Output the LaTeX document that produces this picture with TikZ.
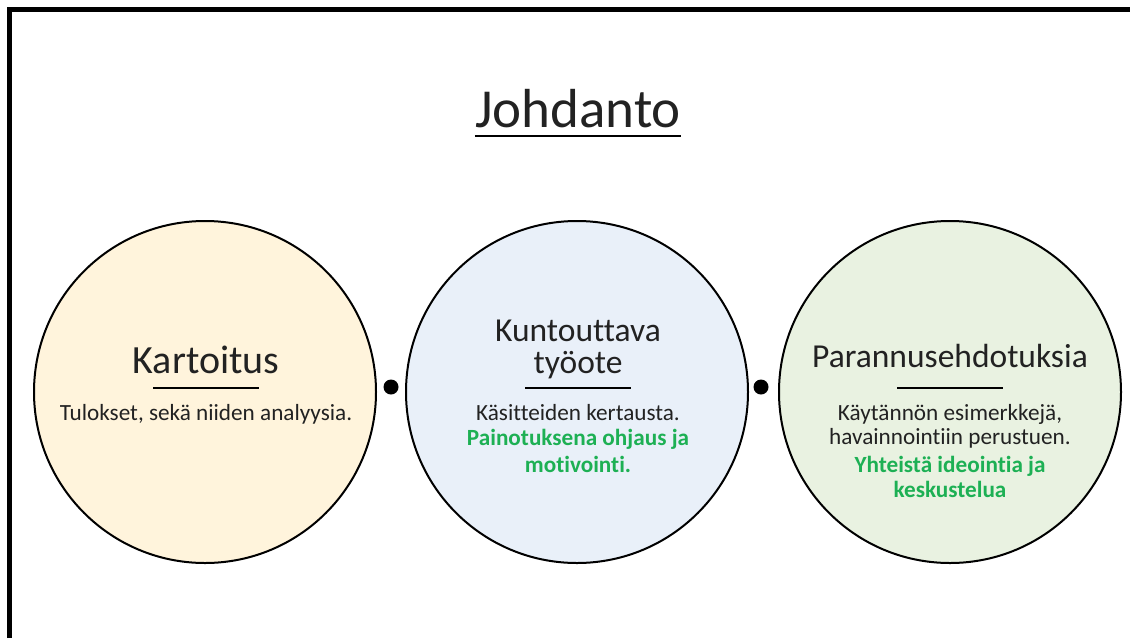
\documentclass[tikz,border=0pt]{standalone}
\usepackage{fontspec}
\setmainfont{Carlito}[Ligatures={NoCommon,NoRequired,NoContextual}]
\definecolor{txt}{HTML}{222222}
\definecolor{grn}{HTML}{1DB054}
\definecolor{cyel}{HTML}{FFF4DC}
\definecolor{cblu}{HTML}{E9F0F9}
\definecolor{cgrn}{HTML}{E9F2E1}
\tikzset{
  bubble/.style={circle, draw=black, line width=2pt, minimum size=342pt, inner sep=0pt},
  joint/.style={circle, fill=black, minimum size=15pt, inner sep=0pt},
  head/.style={anchor=base, inner sep=0pt, text=txt},
  bigtitle/.style={head, font=\fontsize{55}{66}\selectfont},
  ctitle/.style={head, font=\fontsize{33.5}{30}\selectfont},
  body/.style={anchor=base, inner sep=0pt, text=txt, font=\fontsize{23.2}{26}\selectfont},
  hl/.style={anchor=base, inner sep=0pt, text=grn, font=\fontsize{23.2}{26}\selectfont\bfseries},
  bar/.style={line width=2.5pt, draw=black}
}
\begin{document}
\begin{tikzpicture}[x=1pt,y=-1pt]
\useasboundingbox (0,0) rectangle (1130,638);
\fill[white] (0,0) rectangle (1130,638);
\draw[line width=4.5pt] (9.3,638) -- (9.3,9.5) -- (1130,9.5);

\node[bigtitle] (title) at (578,127) {Johdanto};
\draw[line width=1.5pt] ([yshift=-9pt]title.base west) -- ([yshift=-9pt]title.base east);

\node[bubble, fill=cyel] (c1) at (205,392) {};
\node[bubble, fill=cblu] (c2) at (577,392) {};
\node[bubble, fill=cgrn] (c3) at (950,392) {};

\node[joint] (d1) at (391,387) {};
\node[joint] (d2) at (761,387) {};

% circle 1
\node[head, font=\fontsize{40}{40}\selectfont] (k1) at (206,373) {Kartoitus};
\coordinate (b1l) at (153,388); \coordinate (b1r) at (259,388);
\draw[bar] (b1l) -- (b1r);
\node[body] (t1) at (206,420) {Tulokset, sekä niiden analyysia.};

% circle 2
\node[ctitle] (k2a) at (578,341) {Kuntouttava};
\node[ctitle] (k2b) at (578,373) {työote};
\coordinate (b2l) at (525,388); \coordinate (b2r) at (631,388);
\draw[bar] (b2l) -- (b2r);
\node[body] (t2a) at (578,420) {Käsitteiden kertausta.};
\node[hl] (t2b) at (578,445) {Painotuksena ohjaus ja};
\node[hl] (t2c) at (578,472) {motivointi.};

% circle 3
\node[ctitle] (k3) at (950,367) {Parannusehdotuksia};
\coordinate (b3l) at (897,388); \coordinate (b3r) at (1003,388);
\draw[bar] (b3l) -- (b3r);
\node[body] (t3a) at (950,420) {Käytännön esimerkkejä,};
\node[body] (t3b) at (950,444) {havainnointiin perustuen.};
\node[hl] (t3c) at (950,472) {Yhteistä ideointia ja};
\node[hl] (t3d) at (950,497) {keskustelua};
\end{tikzpicture}
\end{document}
